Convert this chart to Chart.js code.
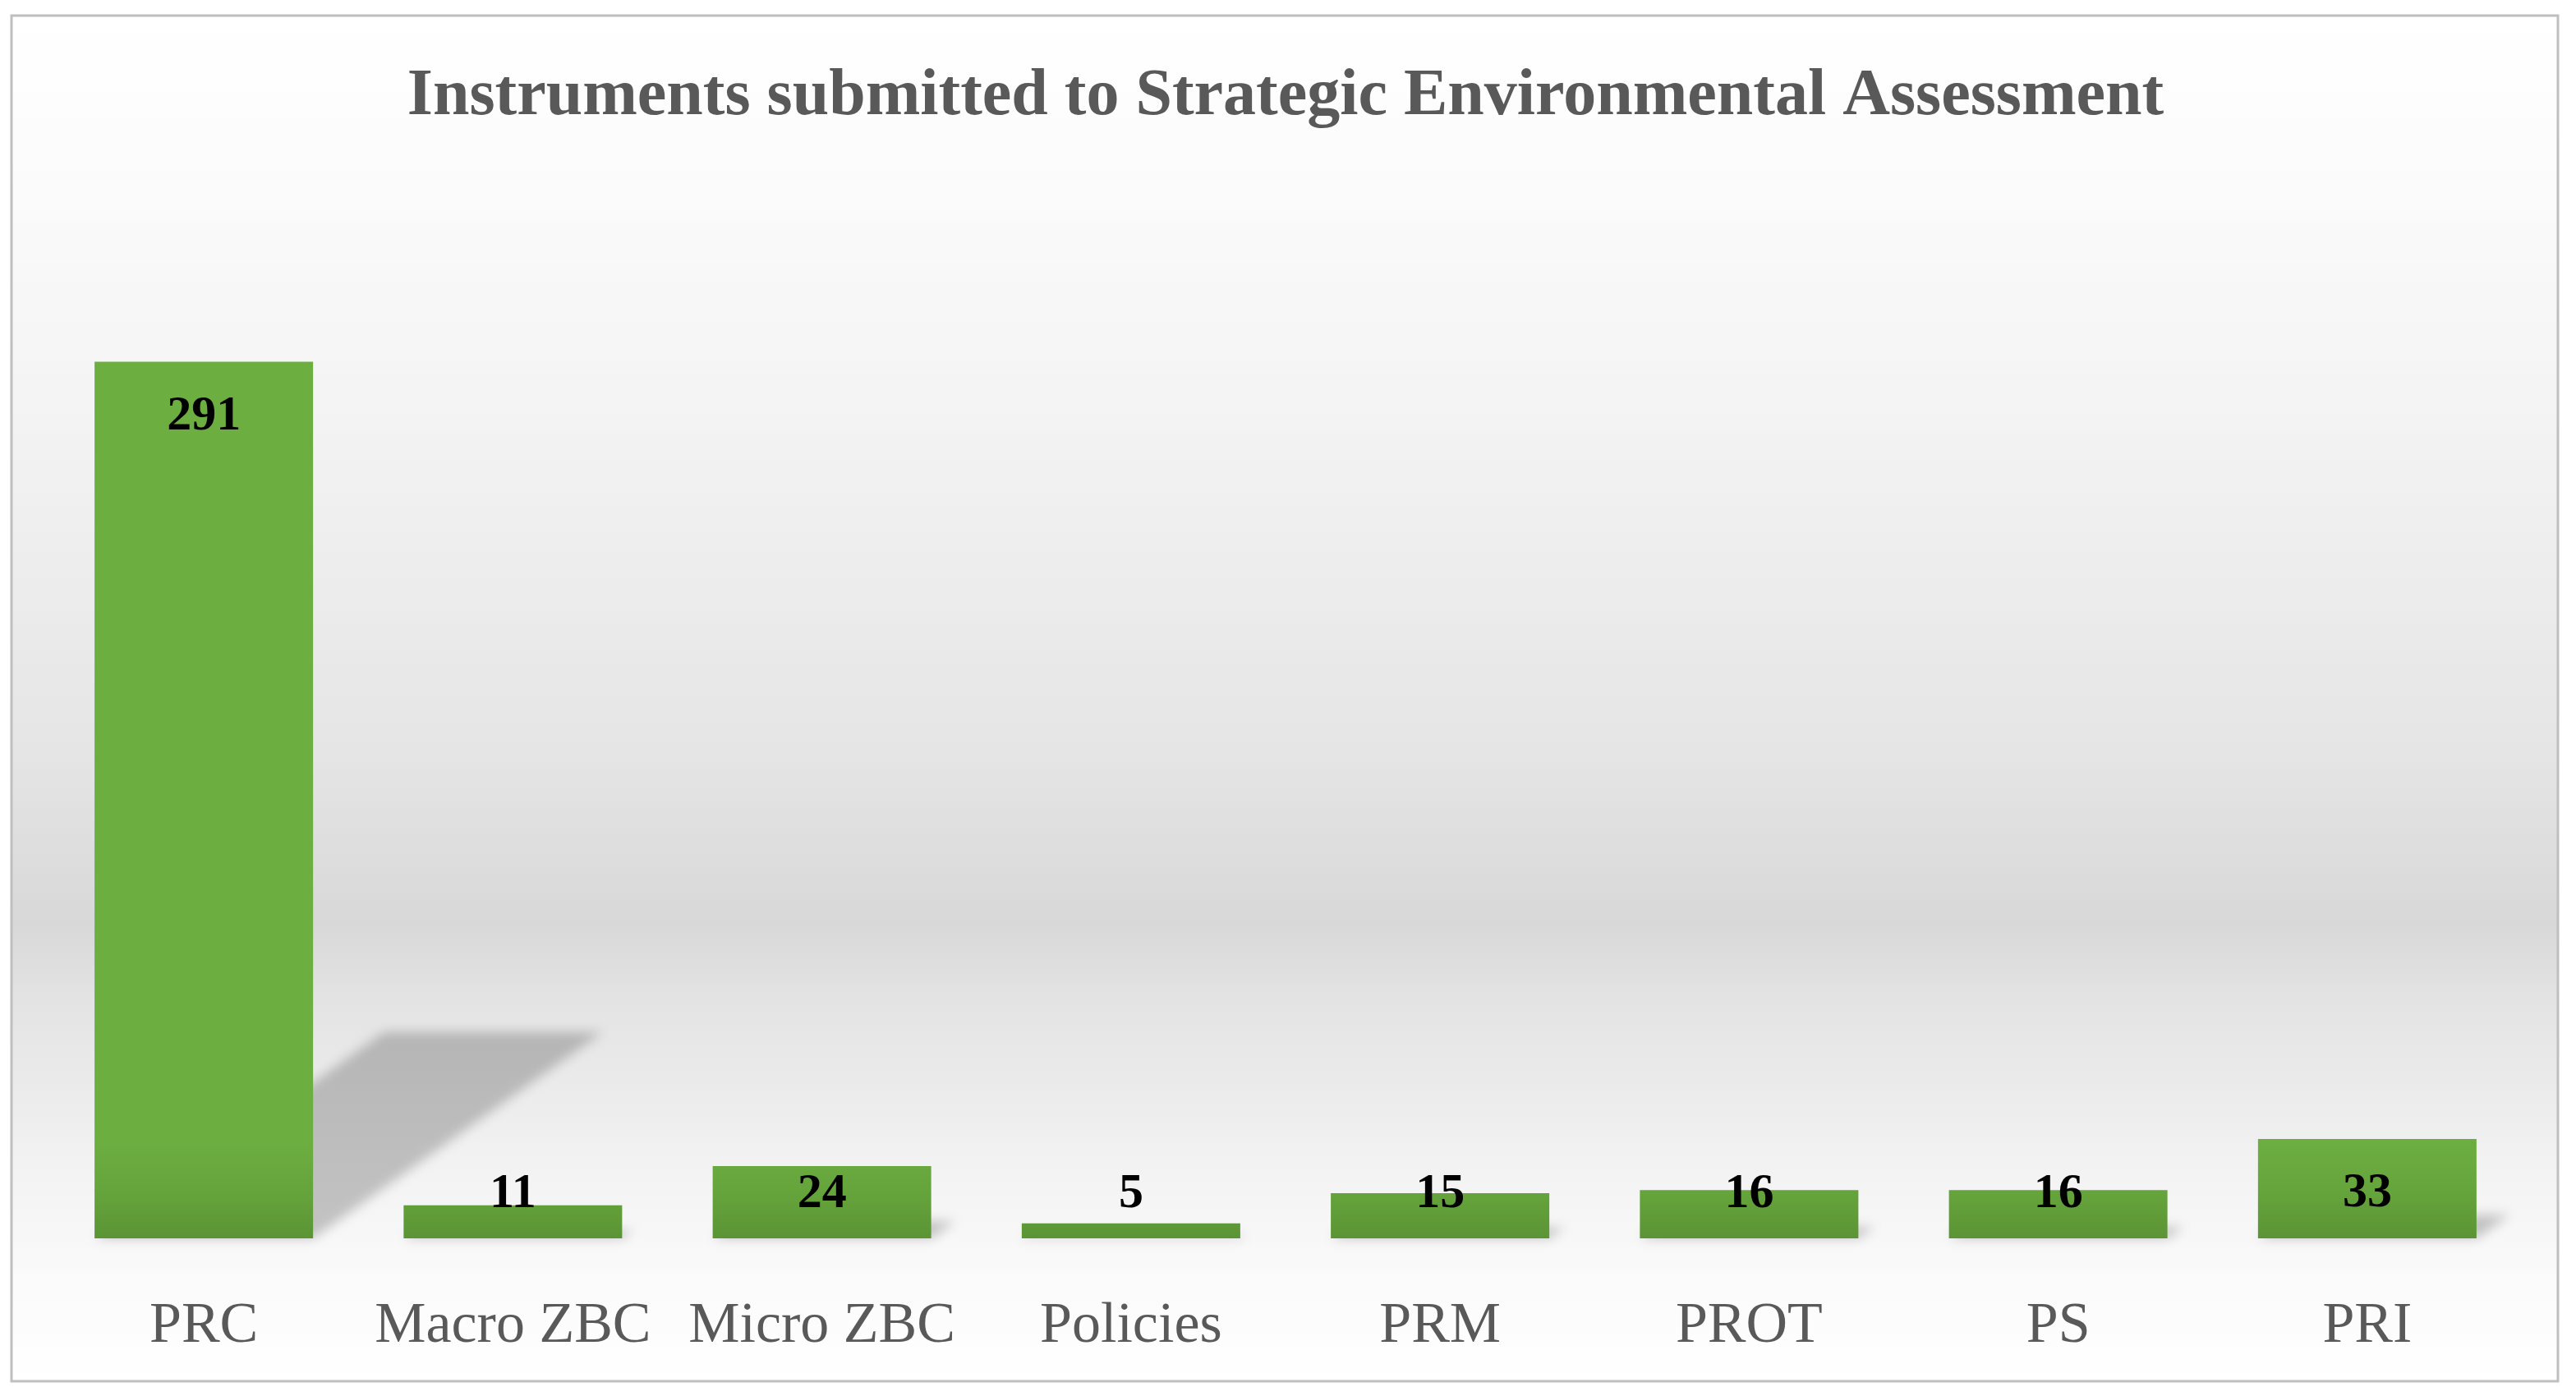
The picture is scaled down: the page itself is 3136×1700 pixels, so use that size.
<!DOCTYPE html>
<html>
<head>
<meta charset="utf-8">
<script src="https://cdn.jsdelivr.net/npm/chart.js@4.4.1/dist/chart.umd.min.js"></script>
<style>
  html, body { margin: 0; padding: 0; background: #fff; }
  #wrap { width: 3136px; height: 1700px; }
</style>
</head>
<body>
<div id="wrap"><canvas id="myChart"></canvas></div>
<script>
var categories = ['PRC', 'Macro ZBC', 'Micro ZBC', 'Policies', 'PRM', 'PROT', 'PS', 'PRI'];
var instruments = [291, 11, 24, 5, 15, 16, 16, 33];
var chartTitle = 'Instruments submitted to Strategic Environmental Assessment';

// grey frame + vertical gradient behind everything
var backdrop = {
    id: 'backdrop',
    beforeDraw: function(chart) {
        var ctx = chart.ctx;
        var x0 = 14, y0 = 19, x1 = chart.width - 22, y1 = chart.height - 18;
        ctx.save();
        ctx.fillStyle = '#ffffff';
        ctx.fillRect(0, 0, chart.width, chart.height);
        var g = ctx.createLinearGradient(0, y0, 0, y1);
        g.addColorStop(0, '#ffffff');
        g.addColorStop(0.10, '#fcfcfc');
        g.addColorStop(0.30, '#f3f3f3');
        g.addColorStop(0.54, '#e5e5e5');
        g.addColorStop(0.665, '#d8d8d8');
        g.addColorStop(0.72, '#e3e3e3');
        g.addColorStop(0.84, '#f2f2f2');
        g.addColorStop(0.92, '#fafafa');
        g.addColorStop(1, '#ffffff');
        ctx.fillStyle = g;
        ctx.fillRect(x0, y0, x1 - x0, y1 - y0);
        ctx.strokeStyle = '#bfbfbf';
        ctx.lineWidth = 3;
        ctx.strokeRect(x0, y0, x1 - x0, y1 - y0);
        ctx.restore();
    }
};

// slanted shadow behind each bar, and gradient fill per bar
var barStyle = {
    id: 'barStyle',
    beforeDatasetsDraw: function(chart) {
        var ctx = chart.ctx;
        var meta = chart.getDatasetMeta(0);
        ctx.save();
        ctx.filter = 'blur(7px)';
        ctx.fillStyle = 'rgba(0,0,0,0.21)';
        meta.data.forEach(function(bar) {
            var h = bar.base - bar.y;
            var half = bar.width / 2;
            var dx = h * 0.33, dy = h * 0.235;
            ctx.beginPath();
            ctx.moveTo(bar.x - half, bar.base);
            ctx.lineTo(bar.x + half, bar.base);
            ctx.lineTo(bar.x + half + dx, bar.base - dy);
            ctx.lineTo(bar.x - half + dx, bar.base - dy);
            ctx.closePath();
            ctx.fill();
        });
        ctx.restore();
        meta.data.forEach(function(bar) {
            var g = ctx.createLinearGradient(0, bar.y, 0, bar.base);
            g.addColorStop(0, '#6dae41');
            g.addColorStop(0.5, '#66a53c');
            g.addColorStop(1, '#5b9435');
            bar.options.backgroundColor = g;
        });
    }
};

var valueLabels = {
    id: 'valueLabels',
    afterDatasetsDraw: function(chart) {
        var ctx = chart.ctx;
        var meta = chart.getDatasetMeta(0);
        ctx.save();
        ctx.font = 'bold 60px "Liberation Serif"';
        ctx.fillStyle = '#000000';
        ctx.textAlign = 'center';
        ctx.textBaseline = 'middle';
        meta.data.forEach(function(bar, i) {
            var y = Math.min(bar.y + 67, bar.base - 54);
            ctx.fillText(instruments[i], bar.x, y);
        });
        ctx.restore();
    }
};

var chartdata = {
    labels: categories,
    datasets: [{
        label: 'Instruments',
        data: instruments,
        backgroundColor: '#66a53c',
        borderWidth: 0,
        categoryPercentage: 1,
        barPercentage: 0.707
    }]
};

var ctx = document.getElementById('myChart').getContext('2d');
var myChart = new Chart(ctx, {
    type: 'bar',
    data: chartdata,
    plugins: [backdrop, barStyle, valueLabels],
    options: {
        responsive: true,
        maintainAspectRatio: false,
        animation: false,
        layout: { padding: { left: 60, right: 66, top: 20, bottom: -24 } },
        plugins: {
            legend: { display: false },
            tooltip: { enabled: false },
            title: {
                display: true,
                text: chartTitle,
                color: '#595959',
                font: { family: '"Liberation Serif"', size: 80, weight: 'bold' },
                padding: { top: 50, bottom: 168 }
            }
        },
        scales: {
            x: {
                grid: { display: false, drawTicks: false, tickLength: 0 },
                border: { display: false },
                ticks: {
                    color: '#595959',
                    padding: 66,
                    maxRotation: 0,
                    autoSkip: false,
                    font: { family: '"Liberation Serif"', size: 70 }
                }
            },
            y: {
                display: false,
                min: 0,
                max: 320
            }
        }
    }
});
</script>
</body>
</html>
